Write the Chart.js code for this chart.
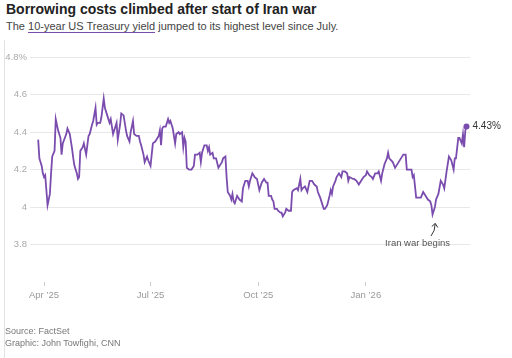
<!DOCTYPE html>
<html><head><meta charset="utf-8">
<script src="https://cdn.jsdelivr.net/npm/chart.js@4/dist/chart.umd.min.js"></script>
<style>
html,body{margin:0;padding:0;background:#fff;}
body{width:512px;height:358px;position:relative;overflow:hidden;font-family:"Liberation Sans",Arial,sans-serif;}
canvas{position:absolute;left:0;top:0;}
.t{position:absolute;white-space:nowrap;}
#title{left:6px;top:1px;font-size:14px;line-height:16px;font-weight:bold;color:#222;}
#sub{left:6px;top:20.4px;font-size:11px;line-height:13px;color:#444;}
#sub span{border-bottom:1px solid #7a4cae;}
#src{left:5px;top:325px;font-size:9px;line-height:12px;color:#777;}
#edge{position:absolute;left:4px;top:40px;width:1px;height:318px;background:#e3e3e3;}
</style></head>
<body>
<div id="edge"></div>
<div class="t" id="title">Borrowing costs climbed after start of Iran war</div>
<div class="t" id="sub">The <span>10-year US Treasury yield</span> jumped to its highest level since July.</div>
<canvas id="c" width="512" height="358"></canvas>
<div class="t" id="src">Source: FactSet<br>Graphic: John Towfighi, CNN</div>
<script>
// days since 1 Apr 2025
const dayOffsets = [-5,-4,-2,-1,0,1,2,3,5,6,
7,9,10,12,14,15,16,19,20,22,
24,25,26,28,29,30,31,33,34,36,
38,39,41,42,44,45,46,48,49,51,
52,54,55,56,57,58,59,61,62,63,
65,66,68,70,71,73,74,75,76,77,
79,81,82,83,85,86,88,89,91,92,
93,95,96,98,99,100,101,102,104,106,
107,108,109,110,112,113,115,116,118,119,
120,121,122,124,126,128,129,131,133,134,
135,136,137,139,140,141,142,144,145,147,
149,150,152,153,155,156,157,159,160,161,
162,163,165,166,167,169,170,172,173,174,
175,176,178,180,182,183,184,186,188,190,
191,192,194,195,196,197,199,200,202,203,
204,206,207,209,211,212,213,216,217,219,
220,221,223,225,227,229,231,233,234,236,
237,239,240,242,244,245,246,247,249,250,
252,254,255,257,259,260,261,264,265,267,
269,271,273,275,276,278,280,281,283,284,
285,286,288,289,291,293,294,295,298,300,
301,303,305,307,309,310,312,314,315,316,
318,320,322,324,326,328,330,331,332,334,
335,337,339,341,342,344,346,348,350,351,
352,354,355,357,358,359,360,361];
const yields = [4.36,4.26,4.22,4.18,4.16,4.17,4.09,4.01,4.07,4.18,
4.27,4.30,4.47,4.41,4.37,4.28,4.34,4.39,4.42,4.39,
4.31,4.26,4.22,4.18,4.15,4.16,4.30,4.32,4.34,4.28,
4.38,4.39,4.44,4.46,4.53,4.44,4.45,4.45,4.48,4.58,
4.53,4.49,4.47,4.45,4.47,4.43,4.39,4.43,4.45,4.36,
4.44,4.50,4.49,4.41,4.38,4.35,4.40,4.43,4.46,4.39,
4.38,4.38,4.35,4.33,4.28,4.24,4.27,4.25,4.22,4.28,
4.34,4.35,4.36,4.38,4.41,4.33,4.42,4.43,4.43,4.47,
4.45,4.46,4.44,4.42,4.34,4.39,4.40,4.39,4.40,4.32,
4.37,4.35,4.21,4.20,4.20,4.22,4.28,4.28,4.29,4.24,
4.29,4.31,4.33,4.33,4.30,4.32,4.28,4.29,4.26,4.26,
4.21,4.22,4.24,4.26,4.27,4.16,4.08,4.06,4.04,4.07,
4.03,4.02,4.06,4.05,4.04,4.03,4.10,4.14,4.14,4.14,
4.11,4.14,4.18,4.16,4.15,4.12,4.09,4.13,4.15,4.13,
4.13,4.06,4.06,4.04,4.03,3.99,3.99,3.98,3.97,3.97,
3.95,3.97,3.99,3.98,3.98,4.08,4.09,4.10,4.09,4.15,
4.09,4.10,4.11,4.08,4.14,4.14,4.12,4.11,4.08,4.05,
4.03,3.99,3.99,4.01,4.06,4.09,4.07,4.11,4.14,4.16,
4.18,4.16,4.19,4.19,4.18,4.14,4.16,4.15,4.15,4.14,
4.12,4.14,4.16,4.17,4.19,4.17,4.16,4.15,4.18,4.18,
4.18,4.19,4.14,4.18,4.23,4.26,4.29,4.26,4.24,4.21,
4.22,4.24,4.26,4.28,4.28,4.20,4.20,4.20,4.16,4.17,
4.05,4.05,4.05,4.08,4.06,4.04,4.03,4.01,3.96,4.00,
4.04,4.07,4.14,4.12,4.10,4.19,4.27,4.25,4.20,4.26,
4.26,4.37,4.37,4.34,4.39,4.32,4.41,4.43];
const xTickDays = [0, 91, 183, 275];
const xTickLabels = ["Apr \u201925", "Jul \u201925", "Oct \u201925", "Jan \u201926"];
const yTickValues = [3.8, 4.0, 4.2, 4.4, 4.6, 4.8];
const warDay = 332;
const warLabel = "Iran war begins";
const lastLabel = "4.43%";

const LINE = '#7a4cae';
const FONT = '"Liberation Sans", Arial, sans-serif';
const n = yields.length;

const annot = {
  id: 'annot',
  afterDatasetsDraw(chart) {
    const {ctx, scales: {x, y}} = chart;
    ctx.save();
    const ex = x.getPixelForValue(dayOffsets[n-1]);
    const ey = y.getPixelForValue(yields[n-1]);
    ctx.font = '10px ' + FONT;
    ctx.fillStyle = '#333';
    ctx.textBaseline = 'middle';
    ctx.textAlign = 'left';
    ctx.fillText(lastLabel, ex + 6, ey);

    const wi = dayOffsets.indexOf(warDay);
    const ax = x.getPixelForValue(warDay);
    const ay = y.getPixelForValue(yields[wi]);
    ctx.font = '9.5px ' + FONT;
    ctx.fillStyle = '#555';
    ctx.textAlign = 'center';
    ctx.fillText(warLabel, ax - 15, ay + 28.5);
    // arrow
    const tx = ax + 2.7, ty = ay + 9;
    const sx = ax - 1.6, sy = ay + 21.5;
    ctx.strokeStyle = '#333';
    ctx.lineWidth = 1;
    ctx.beginPath();
    ctx.moveTo(sx, sy);
    ctx.quadraticCurveTo(ax + 2.5, ay + 17, tx, ty);
    ctx.stroke();
    ctx.beginPath();
    ctx.moveTo(tx - 3.5, ty + 3);
    ctx.lineTo(tx, ty);
    ctx.lineTo(tx + 2.5, ty + 4);
    ctx.stroke();
    ctx.restore();
  }
};

new Chart(document.getElementById('c'), {
  type: 'line',
  data: {
    datasets: [{
      data: dayOffsets.map((d, i) => ({x: d, y: yields[i]})),
      borderColor: LINE,
      borderWidth: 1.8,
      tension: 0,
      pointRadius: dayOffsets.map((d, i) => i === n-1 ? 3 : 0),
      pointBackgroundColor: LINE,
      pointBorderWidth: 0,
      clip: false
    }]
  },
  options: {
    responsive: false,
    animation: false,
    events: [],
    layout: {padding: {top: 57.4, left: 0, right: 42, bottom: 46.2}},
    plugins: {legend: {display: false}, tooltip: {enabled: false}, title: {display: false}},
    scales: {
      x: {
        type: 'linear',
        min: -12, max: 364,
        afterFit(s) { s.height = 30; },
        afterBuildTicks(s) { s.ticks = xTickDays.map(v => ({value: v})); },
        border: {display: false},
        grid: {drawOnChartArea: false, drawTicks: true, tickLength: 4, color: '#c8c8c8'},
        ticks: {
          padding: 4,
          color: '#999',
          font: {family: FONT, size: 9.5},
          maxRotation: 0,
          autoSkip: false,
          callback: (v) => xTickLabels[xTickDays.indexOf(v)]
        }
      },
      y: {
        type: 'linear',
        min: 3.6, max: 4.8,
        afterFit(s) { s.width = 30; },
        afterBuildTicks(s) { s.ticks = yTickValues.map(v => ({value: v})); },
        border: {display: false},
        grid: {drawTicks: false, color: '#e8e8e8', lineWidth: 1},
        ticks: {
          padding: 3,
          color: '#aaa',
          font: {family: FONT, size: 9.5},
          callback: (v) => (Math.abs(v - 4.8) < 1e-6 ? '4.8%' : (Math.abs(v - 4) < 1e-6 ? '4' : v.toFixed(1)))
        }
      }
    }
  },
  plugins: [annot]
});
</script>
</body></html>
